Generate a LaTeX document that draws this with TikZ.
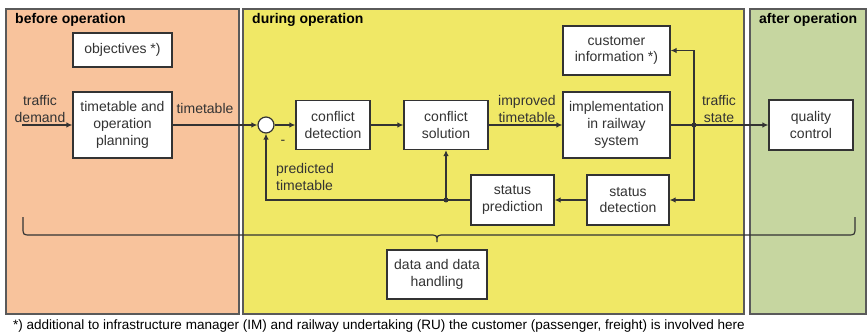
\documentclass[tikz,border=0pt]{standalone}
\usepackage{fontspec}
\setmainfont{Liberation Sans}
\usetikzlibrary{arrows.meta}
\definecolor{cBefore}{HTML}{F8C39C}
\definecolor{cDuring}{HTML}{F0E866}
\definecolor{cAfter}{HTML}{C6D6A0}
\definecolor{cLine}{HTML}{333333}
\definecolor{cFrame}{HTML}{5A5A5A}
\begin{document}
\begin{tikzpicture}[x=1pt,y=-1pt,
  every node/.style={font=\fontsize{14}{16.7}\selectfont, text=cLine},
  panel/.style={draw=cFrame, line width=1.3pt},
  box/.style={draw=cLine, fill=white, line width=1.2pt, align=center, inner sep=0pt},
  lbl/.style={align=center, inner sep=0pt},
  head/.style={anchor=west, inner sep=0pt, font=\fontsize{14}{16}\selectfont\bfseries, text=black},
  conn/.style={draw=cLine, line width=1.2pt},
  arr/.style={conn, -{Latex[length=6pt,width=5.5pt]}},
  dot/.style={circle, fill=cLine, inner sep=0pt, minimum size=5pt}
]
\useasboundingbox (0,0) rectangle (868,334);
% panels
\fill[white] (0,0) rectangle (868,334);
\draw[panel, fill=cBefore] (6,9) rectangle (239,314);
\draw[panel, fill=cDuring] (243,9) rectangle (744,314);
\draw[panel, fill=cAfter] (750,9) rectangle (866,314);
\node[head] (hb) at (15,20) {before operation};
\node[head] (hd) at (252,20) {during operation};
\node[head] (ha) at (759,20) {after operation};

% boxes
\node[box, minimum width=99pt, minimum height=34pt] (obj) at (122.5,50) {objectives *)};
\node[box, minimum width=99pt, minimum height=66pt] (plan) at (122.5,125) {timetable and\\operation\\planning};
\node[circle, draw=cLine, fill=white, line width=1.2pt, minimum size=16pt, inner sep=0pt] (sum) at (266,125) {};
\node[box, minimum width=74pt, minimum height=49pt] (cd) at (333,125) {conflict\\detection};
\node[box, minimum width=84pt, minimum height=49pt] (cs) at (446,125) {conflict\\solution};
\node[box, minimum width=107pt, minimum height=66pt] (impl) at (616.5,125) {implementation\\in railway\\system};
\node[box, minimum width=107pt, minimum height=49pt] (ci) at (616.5,50.5) {customer\\information *)};
\node[box, minimum width=82pt, minimum height=50pt] (sd) at (628,200) {status\\detection};
\node[box, minimum width=83pt, minimum height=50pt] (sp) at (512.5,200) {status\\prediction};
\node[box, minimum width=84pt, minimum height=50pt] (qc) at (811,125) {quality\\control};
\node[box, minimum width=100pt, minimum height=49pt] (data) at (437,274.5) {data and data\\handling};

% junctions
\coordinate (td) at (22,125);
\node[dot] (j1) at (694,125) {};
\node[dot] (j2) at (446,200) {};

% connectors
\draw[arr] (td) -- (plan);
\draw[arr] (plan) -- (sum);
\draw[arr] (sum) -- (cd);
\draw[arr] (cd) -- (cs);
\draw[arr] (cs) -- (impl);
\draw[conn] (impl) -- (j1.center);
\draw[arr] (j1.center) -- (qc);
\draw[arr] (j1.center) |- (ci);
\draw[arr] (j1.center) |- (sd);
\draw[arr] (sd) -- (sp);
\draw[conn] (sp) -- (j2.center);
\draw[arr] (j2.center) -- (cs);
\draw[arr] (j2.center) -| (sum);

% labels
\node[lbl] (ltd) at (40,109) {traffic\\demand};
\node[lbl] (ltt) at (205,108) {timetable};
\node[lbl] (limp) at (527,109) {improved\\timetable};
\node[lbl] (lts) at (719,109) {traffic\\state};
\node[lbl] (lmin) at (283,142) {-};
\node[lbl, anchor=west, align=left] (lpt) at (276,177) {predicted\\timetable};

% brace
\draw[conn] (23,217) -- (23,227) .. controls (23,235) .. (31,235) -- (429,235)
  .. controls (437,235) .. (437,242)
  .. controls (437,235) .. (445,235) -- (847,235)
  .. controls (855,235) .. (855,227) -- (855,217);

% footnote
\node[anchor=west, inner sep=0pt, text=black, font=\fontsize{13.5}{16}\selectfont] (fn) at (13,326) {*) additional to infrastructure manager (IM) and railway undertaking (RU) the customer (passenger, freight) is involved here};
\end{tikzpicture}
\end{document}
